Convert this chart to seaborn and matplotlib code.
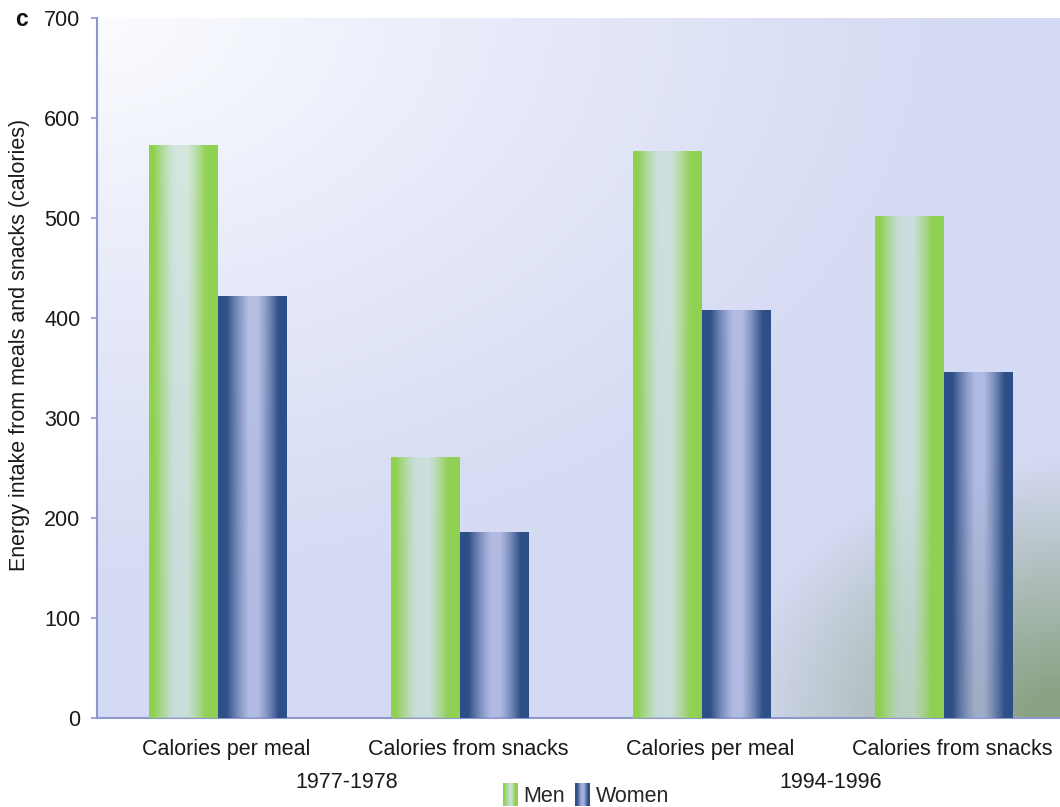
import numpy as np
import pandas as pd
import matplotlib
matplotlib.use("Agg")
import matplotlib.pyplot as plt
from matplotlib.patches import Rectangle
from matplotlib.legend_handler import HandlerBase
from matplotlib.transforms import ScaledTranslation
import seaborn as sns

# ---- data -------------------------------------------------------------
periods = ["1977-1978", "1977-1978", "1994-1996", "1994-1996"]
measures = ["Calories per meal", "Calories from snacks",
            "Calories per meal", "Calories from snacks"]
men = [573, 261, 567, 502]
women = [422, 186, 408, 346]
sexes = ["Men", "Women"]
y_ticks = [0, 100, 200, 300, 400, 500, 600, 700]
y_label = "Energy intake from meals and snacks (calories)"
panel_letter = "c"

slots = [f"{p} | {m}" for p, m in zip(periods, measures)]
df = pd.DataFrame({
    "slot": slots * 2,
    "sex": ["Men"] * len(slots) + ["Women"] * len(slots),
    "calories": men + women,
})

# ---- styling ----------------------------------------------------------
sns.set_theme(style="white")
plt.rcParams["font.family"] = ["Liberation Sans", "DejaVu Sans"]
FS = 15.5
TEXT = "#1a1a1a"
AXIS_COLOR = "#8e98cc"
GREEN = np.array([0.56, 0.82, 0.31])
NAVY = np.array([0.18, 0.31, 0.53])

# colour stops (position, r, g, b, alpha) across each bar's width
men_stops = [
    (0.00, *GREEN, 1.0),
    (0.07, *GREEN, 1.0),
    (0.36, 0.76, 0.87, 0.80, 0.62),
    (0.55, 0.77, 0.88, 0.81, 0.62),
    (0.82, *GREEN, 0.95),
    (1.00, *GREEN, 1.0),
]
women_stops = [
    (0.00, *NAVY, 1.0),
    (0.12, *NAVY, 1.0),
    (0.45, 0.64, 0.68, 0.86, 0.70),
    (0.58, 0.64, 0.68, 0.86, 0.70),
    (0.88, *NAVY, 1.0),
    (1.00, *NAVY, 1.0),
]


def gradient(stops, n=200):
    stops = np.array(stops)
    p = np.linspace(0, 1, n)
    cols = [np.interp(p, stops[:, 0], stops[:, k]) for k in range(1, 5)]
    return np.stack(cols, axis=-1)


W_PX, H_PX, DPI = 1060, 807, 100
fig = plt.figure(figsize=(W_PX / DPI, H_PX / DPI), dpi=DPI)
fig.patch.set_facecolor("white")

# plot area in pixels
left_px, top_px, bottom_px = 97, 18, 718
unit_px = 242
ax = fig.add_axes([left_px / W_PX, (H_PX - bottom_px) / H_PX,
                   unit_px * 4 / W_PX, (bottom_px - top_px) / H_PX])

palette = {"Men": tuple(GREEN), "Women": tuple(NAVY)}
sns.barplot(data=df, x="slot", y="calories", hue="sex", order=slots,
            hue_order=sexes, palette=palette, width=0.57, ax=ax,
            legend=False, saturation=1, zorder=2)

# background wash for the plot area
nr, nc = 350, 480
yy, xx = np.mgrid[0:nr, 0:nc]
px = left_px + xx / (nc - 1) * unit_px * 4
py = top_px + yy / (nr - 1) * (bottom_px - top_px)
lav = np.array([0.835, 0.855, 0.955])
wht = np.array([0.985, 0.99, 1.0])
dw = np.sqrt(((px - left_px) / 900) ** 2 + ((py - top_px) / 600) ** 2)
wt = np.clip(1 - dw, 0, 1) ** 1.2
bg = lav * (1 - wt[..., None]) + wht * wt[..., None]
grn = np.array([0.51, 0.61, 0.47])
dc = np.sqrt(((left_px + unit_px * 4 - px) / 330) ** 2 +
             ((bottom_px - py) / 260) ** 2)
gw = np.clip((1 - dc) / 0.9, 0, 1) * 0.9
bg = bg * (1 - gw[..., None]) + grn * gw[..., None]
ax.imshow(bg, extent=(-0.5, 3.5, 0, 700), aspect="auto", zorder=0,
          interpolation="bilinear", origin="upper")

# shaded cylinder look on each bar
men_img = gradient(men_stops)[None, :, :]
women_img = gradient(women_stops)[None, :, :]
for patch in list(ax.patches):
    fc = np.array(patch.get_facecolor()[:3])
    img = men_img if np.allclose(fc, GREEN, atol=0.02) else women_img
    x0, y0 = patch.get_x(), patch.get_y()
    w, h = patch.get_width(), patch.get_height()
    im = ax.imshow(img, extent=(x0, x0 + w, y0, y0 + h), aspect="auto",
                   zorder=3, interpolation="bilinear")
    im.set_clip_path(patch)
    patch.set_facecolor("none")
    patch.set_edgecolor("none")

ax.set_xlim(-0.5, 3.5)
ax.set_ylim(0, 700)
ax.set_yticks(y_ticks)
ax.set_yticklabels([str(t) for t in y_ticks], fontsize=FS, color=TEXT)
ax.set_xticks(range(len(slots)))
ax.set_xticklabels(measures, fontsize=FS, color=TEXT)
ax.set_xticks(np.arange(-0.5, 4.0, 1.0), minor=True)
ax.tick_params(axis="x", which="major", length=0, pad=15)
ax.tick_params(axis="x", which="minor", length=6, width=1.2,
               color=AXIS_COLOR, direction="out")
ax.tick_params(axis="y", length=4, width=1.2, color=AXIS_COLOR,
               direction="out", pad=8, left=True)
ax.set_xlabel("")
ax.set_ylabel("")
for side in ["top", "right"]:
    ax.spines[side].set_visible(False)
for side in ["left", "bottom"]:
    ax.spines[side].set_color(AXIS_COLOR)
    ax.spines[side].set_linewidth(1.5)
ax.grid(False)

# category labels sit slightly right of the bar-pair centre
nudge = ScaledTranslation(8 / DPI, 0, fig.dpi_scale_trans)
for lab in ax.get_xticklabels():
    lab.set_transform(lab.get_transform() + nudge)

# period labels under each pair of categories
for i, period in enumerate(["1977-1978", "1994-1996"]):
    ax.text(2 * i + 0.5, -65, period, ha="center", va="center",
            fontsize=FS, color=TEXT, clip_on=False,
            transform=ax.transData + nudge)

fig.text(20 / W_PX, 1 - 345 / H_PX, y_label, rotation=90, ha="center",
         va="center", fontsize=FS, color=TEXT)
fig.text(22 / W_PX, 1 - 19 / H_PX, panel_letter, ha="center", va="center",
         fontsize=FS + 1, fontweight="bold", color="#111111")


class GradientHandler(HandlerBase):
    def __init__(self, stops):
        super().__init__()
        self.cols = gradient(stops, n=14)

    def create_artists(self, legend, orig_handle, xdescent, ydescent,
                       width, height, fontsize, trans):
        n = len(self.cols)
        arts = []
        for i, c in enumerate(self.cols):
            r = Rectangle((-xdescent + width * i / n, -ydescent - 3),
                          width / n * 1.05, height + 5,
                          facecolor=(*c[:3], 1.0), edgecolor="none",
                          transform=trans)
            arts.append(r)
        return arts


h_men = Rectangle((0, 0), 1, 1)
h_women = Rectangle((0, 0), 1, 1)
fig.legend([h_men, h_women], sexes, loc="center",
           bbox_to_anchor=(586 / W_PX, 1 - 796 / H_PX), ncol=2,
           frameon=False, fontsize=FS, handlelength=0.7, handleheight=0.8,
           handletextpad=0.25, columnspacing=0.45, borderaxespad=0,
           borderpad=0,
           handler_map={h_men: GradientHandler(men_stops),
                        h_women: GradientHandler(women_stops)})

fig.savefig("out.png", dpi=DPI)
